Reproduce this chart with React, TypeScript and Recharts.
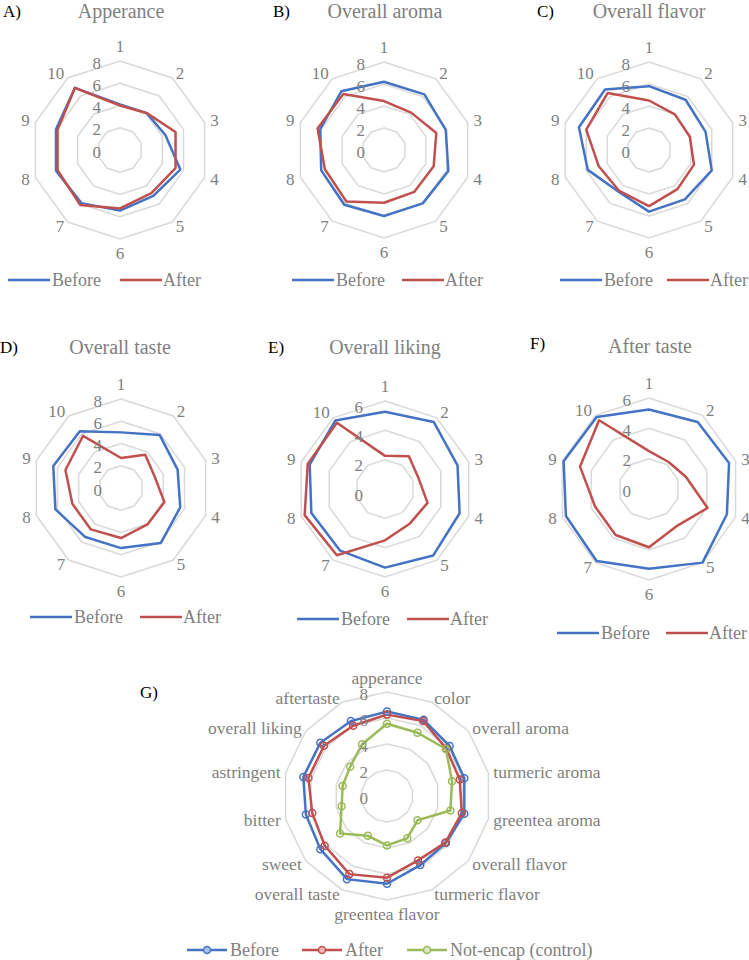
import {PolarAngleAxis, PolarGrid, PolarRadiusAxis, Radar, RadarChart} from "recharts";

const FONT = '"Liberation Serif", "Times New Roman", serif';
const GREY = '#808080';
const BLUE = '#4472c4';
const RED = '#c0504d';
const GREEN = '#9bbb59';
const GRID = '#d9d9d9';

// panelists 1..10
const panelists = ['1', '2', '3', '4', '5', '6', '7', '8', '9', '10'];

const appearanceBefore = [4.1, 4.1, 4.3, 5.7, 5.1, 5.45, 5.9, 6.05, 6.05, 6.9];
const appearanceAfter = [4.0, 4.1, 5.25, 5.25, 4.8, 5.25, 6.1, 5.9, 5.9, 6.9];

const aromaBefore = [6.2, 6.25, 5.9, 6.15, 6.0, 6.0, 6.15, 6.0, 6.1, 6.6];
const aromaAfter = [4.45, 4.2, 5.0, 4.75, 4.7, 4.8, 5.8, 5.65, 6.35, 6.3];

const flavorBefore = [5.8, 5.65, 5.4, 6.0, 5.55, 5.6, 4.7, 5.85, 6.7, 6.8];
const flavorAfter = [4.5, 4.0, 3.9, 4.3, 4.4, 5.1, 4.6, 4.8, 6.0, 6.4];

const tasteBefore = [5.0, 5.9, 5.35, 5.6, 6.1, 5.4, 5.45, 6.2, 6.4, 6.3];
const tasteAfter = [2.7, 3.7, 3.2, 4.1, 4.05, 4.5, 4.6, 4.6, 5.25, 5.8];

const likingBefore = [5.27, 5.65, 5.2, 5.35, 5.6, 5.36, 5.2, 5.28, 5.4, 5.77];
const likingAfter = [2.26, 2.77, 2.4, 3.05, 2.9, 3.5, 5.58, 5.76, 5.54, 5.58];

const afterTasteBefore = [5.24, 5.46, 5.55, 5.4, 6.0, 5.26, 5.87, 5.76, 5.92, 5.87];
const afterTasteAfter = [2.5, 2.2, 2.57, 4.06, 3.05, 3.84, 3.75, 3.74, 4.78, 5.6];

// panel G
const attributes = [
  'apperance', 'color', 'overall aroma', 'turmeric aroma', 'greentea aroma', 'overall flavor',
  'turmeric flavor', 'greentea flavor', 'overall taste', 'sweet', 'bitter', 'astringent',
  'overall liking', 'aftertaste',
];
const summaryBefore = [6.5, 6.5, 6.16, 6.1, 6.1, 5.8, 5.9, 6.75, 7.1, 6.56, 6.4, 6.6, 6.56, 6.4];
const summaryAfter = [6.26, 6.4, 5.84, 5.74, 5.9, 5.74, 5.5, 6.28, 6.67, 6.13, 5.9, 6.2, 6.2, 6.0];
const summaryControl = [5.56, 5.4, 5.8, 5.13, 5.0, 3.0, 3.6, 3.8, 3.4, 4.62, 3.58, 3.5, 3.62, 4.42];

const angleTick = (cx: number, cy: number, r: number, gap: number, size: number) => (props: any) => {
  const {x, y, payload} = props;
  const dx = x - cx;
  const dy = y - cy;
  const len = Math.hypot(dx, dy) || 1;
  const ux = dx / len;
  const uy = dy / len;
  const tx = cx + ux * (r + gap);
  let ty = cy + uy * (r + gap);
  let anchor = 'middle';
  if (ux > 0.05) anchor = 'start';
  else if (ux < -0.05) anchor = 'end';
  else ty += uy * size * 0.5;
  return (
    <text x={tx} y={ty} textAnchor={anchor} dominantBaseline="central" fill={GREY} fontSize={size} fontFamily={FONT}>
      {payload.value}
    </text>
  );
};

const radiusTick = (shift: number, size: number, dy = 2) => (props: any) => (
  <text x={props.x - shift} y={props.y + dy} textAnchor="end" dominantBaseline="central" fill={GREY} fontSize={size}
        fontFamily={FONT}>
    {props.payload.value}
  </text>
);

const LegendItem = ({left, top, name, color, fill, lineW, gap, marker}: any) => (
  <div style={{
    position: 'absolute', left, top, transform: 'translateY(-50%)', display: 'flex', alignItems: 'center',
    fontSize: 18, color: GREY, whiteSpace: 'nowrap', lineHeight: 1, fontFamily: FONT,
  }}>
    <svg width={lineW} height={12}>
      <line x1={0} y1={6} x2={lineW} y2={6} stroke={color} strokeWidth={2.5}/>
      {marker && <circle cx={lineW / 2} cy={6} r={3.5} fill={fill} stroke={color} strokeWidth={1.5}/>}
    </svg>
    <span style={{marginLeft: gap}}>{name}</span>
  </div>
);

const Label = ({x, y, text, center, color, size}: any) => (
  <div style={{
    position: 'absolute', left: x, top: y, transform: center ? 'translate(-50%,-50%)' : 'translateY(-50%)',
    fontSize: size, color, whiteSpace: 'nowrap', lineHeight: 1, fontFamily: FONT,
  }}>{text}</div>
);

interface PanelProps {
  left: number;
  top: number;
  cx: number;
  cy: number;
  r: number;
  max: number;
  shift: number;
  tickDy: number;
  letter: string;
  letterX: number;
  letterY: number;
  title: string;
  titleX: number;
  titleY: number;
  before: number[];
  after: number[];
  legendX: number;
  legendX2: number;
  legendY: number;
}

const Panel = (p: PanelProps) => {
  const data = panelists.map((name, i) => ({name, before: p.before[i], after: p.after[i]}));
  return (
    <>
      <Label x={p.letterX} y={p.letterY} text={p.letter} color="#000" size={17}/>
      <Label x={p.titleX} y={p.titleY} text={p.title} center color={GREY} size={20}/>
      <div style={{position: 'absolute', left: p.left, top: p.top}}>
        <RadarChart width={249} height={300} cx={p.cx} cy={p.cy} outerRadius={p.r} data={data}
                    margin={{top: 0, right: 0, bottom: 0, left: 0}}>
          <PolarGrid gridType="polygon" radialLines={false} stroke={GRID} strokeWidth={1.5}/>
          <PolarAngleAxis dataKey="name" tickLine={false} axisLine={false}
                          tick={angleTick(p.cx, p.cy, p.r, 6, 17)}/>
          <PolarRadiusAxis type="number" angle={90} domain={[0, p.max]} tickCount={p.max / 2 + 1}
                           axisLine={false} tickLine={false} tick={radiusTick(p.shift, 17, p.tickDy)}/>
          <Radar dataKey="before" stroke={BLUE} strokeWidth={2.5} fill="none" fillOpacity={0} dot={false}
                 strokeLinejoin="round" isAnimationActive={false}/>
          <Radar dataKey="after" stroke={RED} strokeWidth={2.5} fill="none" fillOpacity={0} dot={false}
                 strokeLinejoin="round" isAnimationActive={false}/>
        </RadarChart>
      </div>
      <LegendItem left={p.legendX} top={p.legendY} name="Before" color={BLUE} lineW={42} gap={2}/>
      <LegendItem left={p.legendX2} top={p.legendY} name="After" color={RED} lineW={42} gap={1}/>
    </>
  );
};

const panels: PanelProps[] = [
  {left: 0, top: 0, cx: 120, cy: 150, r: 89, max: 8, shift: 19, tickDy: 2, letter: 'A)', letterX: 3, letterY: 11,
    title: 'Apperance', titleX: 121, titleY: 11, before: appearanceBefore, after: appearanceAfter,
    legendX: 8, legendX2: 120, legendY: 280},
  {left: 249, top: 0, cx: 135, cy: 150, r: 88, max: 8, shift: 19, tickDy: 2, letter: 'B)', letterX: 273, letterY: 11,
    title: 'Overall aroma', titleX: 385, titleY: 11, before: aromaBefore, after: aromaAfter,
    legendX: 292, legendX2: 402, legendY: 280},
  {left: 498, top: 0, cx: 151, cy: 150, r: 88, max: 8, shift: 19, tickDy: 2, letter: 'C)', letterX: 537, letterY: 11,
    title: 'Overall flavor', titleX: 649, titleY: 11, before: flavorBefore, after: flavorAfter,
    legendX: 560, legendX2: 667, legendY: 280},
  {left: 0, top: 300, cx: 121, cy: 188, r: 89, max: 8, shift: 19, tickDy: 2, letter: 'D)', letterX: 0, letterY: 347,
    title: 'Overall taste', titleX: 120, titleY: 347, before: tasteBefore, after: tasteAfter,
    legendX: 30, legendX2: 140, legendY: 617},
  {left: 249, top: 300, cx: 136, cy: 189, r: 88, max: 6, shift: 22, tickDy: 6, letter: 'E)', letterX: 268, letterY: 347,
    title: 'Overall liking', titleX: 385, titleY: 347, before: likingBefore, after: likingAfter,
    legendX: 297, legendX2: 407, legendY: 619},
  {left: 498, top: 300, cx: 151, cy: 189, r: 91, max: 6, shift: 18, tickDy: 2, letter: 'F)', letterX: 530, letterY: 343,
    title: 'After taste', titleX: 650, titleY: 346, before: afterTasteBefore, after: afterTasteAfter,
    legendX: 557, legendX2: 666, legendY: 633},
];

const SummaryPanel = () => {
  const cx = 387;
  const cy = 156;
  const r = 104;
  const data = attributes.map((name, i) => ({
    name, before: summaryBefore[i], after: summaryAfter[i], control: summaryControl[i],
  }));
  const dot = (color: string, fill: string) => ({r: 3.5, fill, stroke: color, strokeWidth: 1.5});
  return (
    <>
      <Label x={140} y={692} text="G)" color="#000" size={17}/>
      <div style={{position: 'absolute', left: 0, top: 640}}>
        <RadarChart width={749} height={300} cx={cx} cy={cy} outerRadius={r} data={data}
                    margin={{top: 0, right: 0, bottom: 0, left: 0}}>
          <PolarGrid gridType="polygon" radialLines={false} stroke={GRID} strokeWidth={1.5}/>
          <PolarAngleAxis dataKey="name" tickLine={false} axisLine={false} tick={angleTick(cx, cy, r, 5, 17.5)}/>
          <PolarRadiusAxis type="number" angle={90} domain={[0, 8]} tickCount={5}
                           axisLine={false} tickLine={false} tick={radiusTick(19, 17)}/>
          <Radar dataKey="before" stroke={BLUE} strokeWidth={2.5} fill="none" fillOpacity={0}
                 dot={dot(BLUE, '#a9c4eb')} isAnimationActive={false}/>
          <Radar dataKey="after" stroke={RED} strokeWidth={2.5} fill="none" fillOpacity={0}
                 dot={dot(RED, '#f2b8b6')} isAnimationActive={false}/>
          <Radar dataKey="control" stroke={GREEN} strokeWidth={2.5} fill="none" fillOpacity={0}
                 dot={dot(GREEN, '#dbe8c3')} isAnimationActive={false}/>
        </RadarChart>
      </div>
      <LegendItem left={187} top={950} name="Before" color={BLUE} fill="#a9c4eb" lineW={40} gap={3} marker/>
      <LegendItem left={302} top={950} name="After" color={RED} fill="#f2b8b6" lineW={40} gap={3} marker/>
      <LegendItem left={407} top={950} name="Not-encap (control)" color={GREEN} fill="#dbe8c3" lineW={40} gap={3} marker/>
    </>
  );
};

export default function App() {
  return (
    <div style={{position: 'relative', width: 749, height: 960, background: '#fff', overflow: 'hidden', fontFamily: FONT}}>
      <style>{'body{margin:0} .recharts-surface{overflow:visible}'}</style>
      {panels.map(p => <Panel key={p.letter} {...p}/>)}
      <SummaryPanel/>
    </div>
  );
}
